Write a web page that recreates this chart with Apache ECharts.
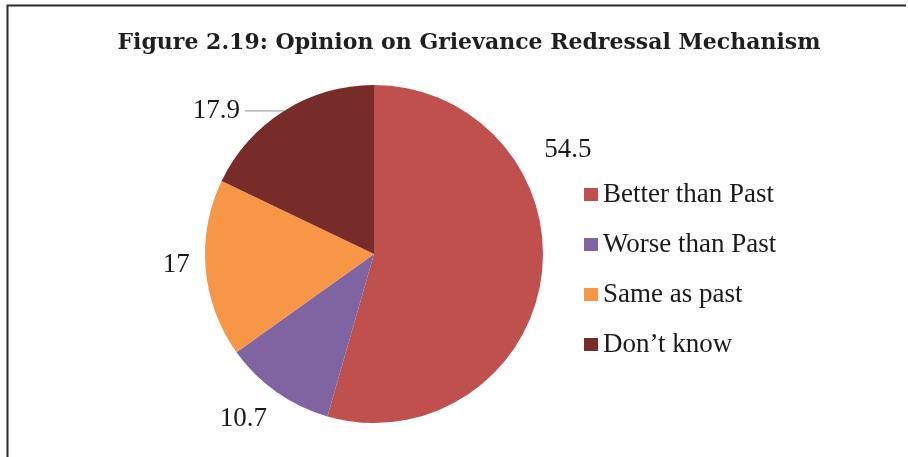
<!DOCTYPE html>
<html>
<head>
<meta charset="utf-8">
<script src="https://cdn.jsdelivr.net/npm/echarts@6/dist/echarts.min.js"></script>
<style>
  html, body { margin: 0; padding: 0; background: #ffffff; }
  #chart { width: 908px; height: 457px; }
</style>
</head>
<body>
<div id="chart"></div>
<script>
// Survey responses (percent)
const categories = ['Better than Past', 'Worse than Past', 'Same as past', 'Don\u2019t know'];
const shares = [54.5, 10.7, 17, 17.9];
const sliceColors = ['#C0504D', '#8064A2', '#F79646', '#772C2A'];
// Nudges for the value labels away from their default outside spot
const labelShift = [[-22, -130], [7, 11], [9, -5], [0, 0]];
// Leader line lengths [radial, horizontal]; only the last slice shows one
const leaderLen = [[20, 0], [20, 0], [20, 0], [0, 39]];
const showLeader = [false, false, false, true];

const chart = echarts.init(document.getElementById('chart'), null, { renderer: 'canvas' });

const option = {
  animation: false,
  backgroundColor: '#ffffff',
  title: {
    text: 'Figure 2.19: Opinion on Grievance Redressal Mechanism',
    left: 464,
    textAlign: 'center',
    top: 27,
    textStyle: {
      fontFamily: 'DejaVu Serif',
      fontWeight: 'bold',
      fontSize: 22,
      color: '#1f1f1f'
    }
  },
  legend: {
    orient: 'vertical',
    left: 584,
    top: 181,
    padding: 0,
    icon: 'rect',
    itemWidth: 14,
    itemHeight: 13,
    itemGap: 23,
    data: categories,
    textStyle: {
      fontFamily: 'Liberation Serif',
      fontSize: 27,
      color: '#1a1a1a'
    }
  },
  graphic: [{
    type: 'polyline',
    shape: { points: [[7.5, 457], [7.5, 5.5], [906, 5.5]] },
    style: { stroke: '#2a2a2a', lineWidth: 2, fill: null },
    silent: true
  }],
  series: [{
    type: 'pie',
    center: [374, 254],
    radius: 169,
    startAngle: 90,
    clockwise: true,
    avoidLabelOverlap: false,
    itemStyle: { borderWidth: 0 },
    label: {
      show: true,
      position: 'outside',
      formatter: '{c}',
      fontFamily: 'Liberation Serif',
      fontSize: 27,
      color: '#1a1a1a'
    },
    labelLine: {
      lineStyle: { color: '#a6a6a6', width: 1.2 }
    },
    labelLayout: function (p) {
      const s = labelShift[p.dataIndex];
      return { dx: s[0], dy: s[1] };
    },
    data: categories.map(function (name, i) {
      return {
        name: name,
        value: shares[i],
        itemStyle: { color: sliceColors[i] },
        labelLine: {
          show: showLeader[i],
          length: leaderLen[i][0],
          length2: leaderLen[i][1]
        }
      };
    })
  }]
};

chart.setOption(option);
</script>
</body>
</html>
